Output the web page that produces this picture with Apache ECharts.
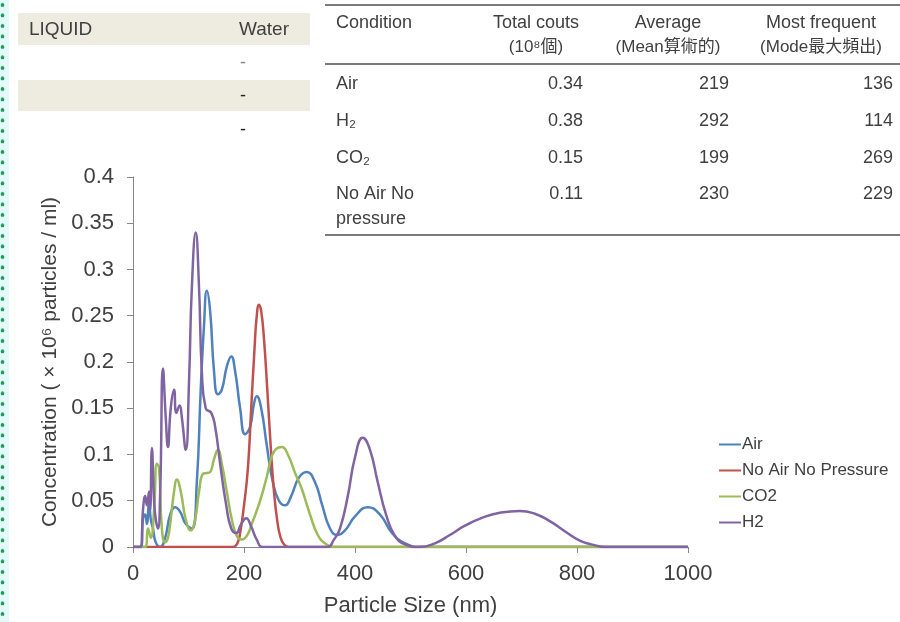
<!DOCTYPE html>
<html>
<head>
<meta charset="utf-8">
<script src="https://cdn.jsdelivr.net/npm/echarts@6/dist/echarts.min.js"></script>
<style>
  html, body { margin: 0; padding: 0; background: #ffffff; }
  #chart { position: absolute; left: 0; top: 0; width: 900px; height: 622px; }
  #strip { position: absolute; left: 0; top: 0; width: 9px; height: 622px; z-index: 5;
    background-color: #e4fafa;
    background-image: radial-gradient(circle at 2.5px 5px, #1f9a58 1.6px, rgba(0,0,0,0) 2.2px);
    background-size: 9px 10.5px; background-repeat: repeat-y; }
</style>
</head>
<body>
<div id="chart"></div>
<div id="strip"></div>
<script>
// ---- chart data (particle size nm, concentration x10^6 particles/ml) ----
const seriesNames = ['Air', 'No Air No Pressure', 'CO2', 'H2'];
const seriesColors = ['#4F81BD', '#C0504D', '#9BBB59', '#8064A2'];

const airData = [
  [0,0],[14,0],[18,0.03],[22,0.035],[25,0.025],[29,0.05],[32,0.03],[36,0.02],[41,0.005],[49,0],
  [58,0.01],[67,0.035],[76,0.043],[85,0.038],[95,0.025],[106,0.02],[115,0.07],[122,0.17],[128,0.24],
  [133,0.277],[139,0.255],[146,0.19],[153,0.165],[160,0.17],[169,0.195],[177,0.206],[184,0.19],
  [193,0.15],[202,0.122],[211,0.13],[218,0.155],[223,0.163],[231,0.15],[241,0.11],[252,0.07],
  [263,0.05],[274,0.045],[285,0.055],[299,0.075],[313,0.081],[328,0.07],[341,0.045],[355,0.02],
  [368,0.013],[382,0.018],[400,0.033],[423,0.043],[445,0.035],[467,0.015],[490,0.004],[517,0],[1000,0]
];
const noAirData = [
  [0,0],[180,0],[188,0.004],[193,0.015],[200,0.045],[207,0.085],[213,0.15],[219,0.215],[223,0.25],
  [227,0.262],[231,0.255],[236,0.225],[242,0.17],[248,0.11],[254,0.06],[260,0.028],[266,0.01],
  [272,0.003],[280,0],[1000,0]
];
const co2Data = [
  [0,0],[22,0],[27,0.02],[32,0.01],[38,0.04],[43,0.09],[47,0.085],[52,0.02],[58,0.005],[63,0.01],
  [68,0.03],[74,0.06],[79,0.073],[86,0.06],[95,0.03],[104,0.018],[112,0.03],[119,0.06],[126,0.079],
  [133,0.08],[139,0.081],[146,0.095],[153,0.105],[160,0.09],[169,0.06],[178,0.03],[187,0.012],
  [196,0.008],[205,0.012],[214,0.025],[229,0.05],[241,0.076],[250,0.098],[258,0.106],[268,0.108],
  [279,0.1],[292,0.08],[304,0.063],[319,0.035],[333,0.013],[348,0.003],[362,0],[1000,0]
];
const h2Data = [
  [0,0],[14,0],[18,0.04],[22,0.055],[25,0.045],[29,0.06],[31,0.04],[34,0.107],[38,0.05],[41,0.03],
  [45,0.02],[49,0.06],[54,0.193],[59,0.14],[63,0.108],[68,0.15],[74,0.17],[78,0.145],[84,0.153],
  [88,0.14],[95,0.105],[101,0.18],[106,0.28],[113,0.34],[119,0.28],[124,0.19],[131,0.15],[141,0.145],
  [148,0.13],[157,0.09],[168,0.045],[177,0.02],[186,0.015],[195,0.025],[204,0.031],[213,0.022],
  [223,0.008],[234,0],[350,0],[362,0.008],[373,0.02],[387,0.055],[400,0.097],[414,0.118],[427,0.105],
  [441,0.07],[456,0.035],[472,0.012],[490,0.003],[517,0],[544,0.004],[571,0.013],[598,0.023],
  [631,0.032],[661,0.037],[697,0.039],[724,0.036],[751,0.028],[778,0.017],[805,0.007],[832,0.002],
  [850,0],[1000,0]
];
const allData = [airData, noAirData, co2Data, h2Data];

// ---- table data ----
const liquidHeader = ['LIQUID', 'Water'];
const liquidValues = ['-', '-', '-'];
const tableHeaders = ['Condition', 'Total couts', 'Average', 'Most frequent'];
const tableSubHeaders = ['', '(10⁸個)', '(Mean算術的)', '(Mode最大頻出)'];
const tableConditions = ['Air', 'H₂', 'CO₂', 'No Air No\npressure'];
const tableTotals = ['0.34', '0.38', '0.15', '0.11'];
const tableMeans = ['219', '292', '199', '230'];
const tableModes = ['136', '114', '269', '229'];

const FONT = "'Liberation Sans', Arial, 'Noto Sans CJK TC', sans-serif";
const TXT = '#404040';

function txt(x, y, s, size, align, color, extra) {
  return Object.assign({ type: 'text', silent: true, style: Object.assign({
    x: x, y: y, text: s, font: size + 'px ' + FONT, fill: color || TXT,
    textAlign: align || 'left', textVerticalAlign: 'middle'
  }, extra || {}) });
}

const graphics = [];
// left table
graphics.push({ type: 'rect', shape: { x: 18, y: 13, width: 292, height: 32 }, style: { fill: '#EEECE1' }, silent: true });
graphics.push({ type: 'rect', shape: { x: 18, y: 80, width: 292, height: 31 }, style: { fill: '#EEECE1' }, silent: true });
graphics.push(txt(29, 30, liquidHeader[0], 19));
graphics.push(txt(239, 30, liquidHeader[1], 19));
const dashY = [63, 96, 130];
liquidValues.forEach((v, i) => {
  graphics.push(txt(243, dashY[i], v, 18, 'center', i === 0 ? '#888' : '#222'));
});
// right table
[5, 64, 235].forEach(y => {
  graphics.push({ type: 'line', shape: { x1: 325, y1: y, x2: 900, y2: y }, style: { stroke: '#7a7a7a', lineWidth: 2 }, silent: true });
});
const headCx = [null, 536, 668, 821];
graphics.push(txt(336, 23, tableHeaders[0], 18));
for (let c = 1; c < 4; c++) {
  graphics.push(txt(headCx[c], 23, tableHeaders[c], 18, 'center'));
  graphics.push(txt(headCx[c], 47, tableSubHeaders[c], 17, 'center'));
}
const rowY = [84, 121, 158, 194];
const colRight = [583, 729, 893];
tableConditions.forEach((name, r) => {
  if (name.indexOf('\n') >= 0) {
    const parts = name.split('\n');
    graphics.push(txt(336, rowY[r], parts[0], 18));
    graphics.push(txt(336, rowY[r] + 25, parts[1], 18));
  } else {
    graphics.push(txt(336, rowY[r], name, 18));
  }
  const vals = [tableTotals[r], tableMeans[r], tableModes[r]];
  vals.forEach((v, c) => graphics.push(txt(colRight[c], rowY[r], v, 18, 'right')));
});

const chart = echarts.init(document.getElementById('chart'));
chart.setOption({
  backgroundColor: 'transparent',
  animation: false,
  textStyle: { fontFamily: FONT },
  grid: { left: 133, right: 212, top: 177, bottom: 75, containLabel: false },
  legend: {
    orient: 'vertical', left: 714, top: 431, itemGap: 9,
    icon: 'rect', itemWidth: 22, itemHeight: 2,
    textStyle: { fontSize: 17, color: TXT, fontFamily: FONT, padding: [0, 0, 0, -4] },
    data: seriesNames
  },
  xAxis: {
    type: 'value', min: 0, max: 1000, interval: 200,
    name: 'Particle Size (nm)', nameLocation: 'middle', nameGap: 48,
    nameTextStyle: { fontSize: 22, color: TXT },
    axisLine: { show: true, lineStyle: { color: '#868686', width: 1 } },
    axisTick: { show: true, length: 6, lineStyle: { color: '#868686' } },
    axisLabel: { fontSize: 22, color: TXT, margin: 16, formatter: v => String(v) },
    splitLine: { show: false }
  },
  yAxis: {
    type: 'value', min: 0, max: 0.4, interval: 0.05,
    name: 'Concentration ( × 10⁶ particles / ml)', nameLocation: 'middle', nameGap: 70,
    nameTextStyle: { fontSize: 21, color: TXT },
    axisLine: { show: true, lineStyle: { color: '#868686', width: 1 } },
    axisTick: { show: true, length: 6, lineStyle: { color: '#868686' } },
    axisLabel: { fontSize: 22, color: TXT, margin: 19 },
    splitLine: { show: false }
  },
  series: seriesNames.map((n, i) => ({
    name: n, type: 'line', data: allData[i], smooth: 0.5,
    showSymbol: false, symbol: 'none', clip: true,
    lineStyle: { color: seriesColors[i], width: 2.5 }, itemStyle: { color: seriesColors[i] }
  })),
  graphic: graphics
});
</script>
</body>
</html>
